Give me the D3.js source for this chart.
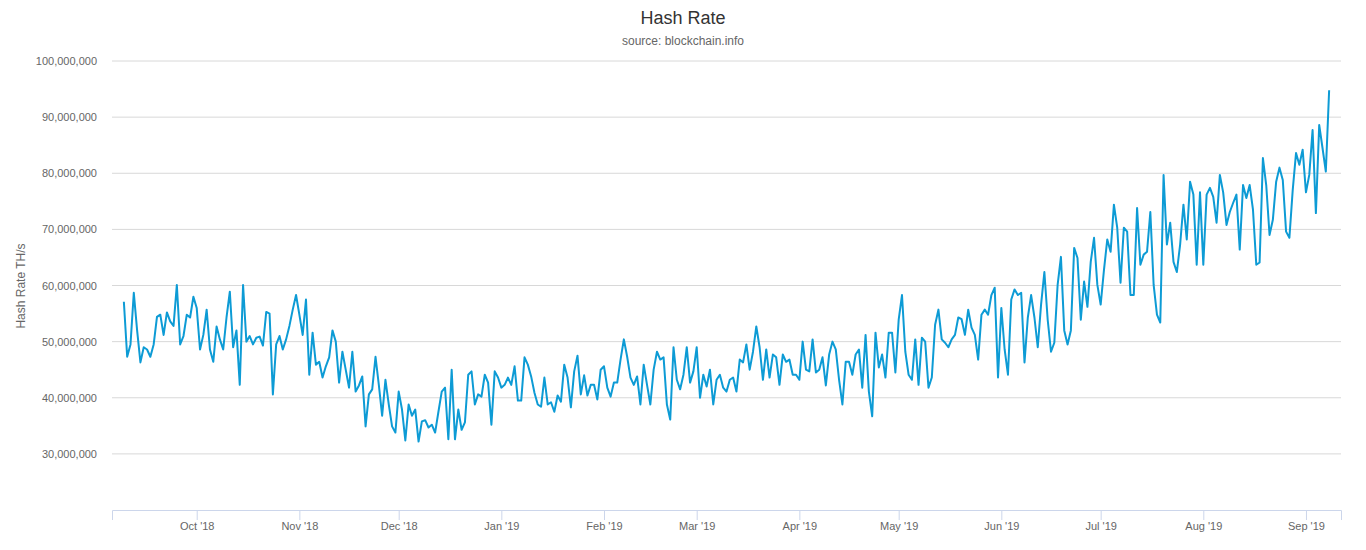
<!DOCTYPE html>
<html><head><meta charset="utf-8">
<script src="https://cdn.jsdelivr.net/npm/d3@7"></script>
<style>body{margin:0;background:#fff;font-family:"Liberation Sans",Arial,sans-serif}</style>
</head><body><svg id="c" width="1366" height="550"></svg>
<script>
const startDate = "2018-09-09";
// Hash rate in millions of TH/s, one value per day
const hashRateM = [57.1,47.3,49.5,58.7,52,46.3,49,48.6,47.3,49.5,54.4,54.8,51.2,55.2,53.6,52.8,60.1,49.5,51,54.8,54.3,58,56,48.6,51.2,55.7,48.6,46.4,52.7,50.4,48.6,54.3,58.9,49,52,42.3,60.1,50,51,49.5,50.7,50.9,49.3,55.3,55,40.6,49.5,51,48.6,50.4,52.8,55.7,58.3,54.8,51.2,57.5,44.1,51.6,45.9,46.4,43.6,45.6,47.2,52,50,42.7,48.2,45,41.8,48.2,41.1,42.2,43.8,34.9,40.6,41.5,47.3,42.3,36.8,43.2,38.8,34.9,33.8,41.1,37.9,32.4,38.8,36.8,37.9,32.2,35.8,36,34.7,35.2,33.8,37.5,41.1,41.8,32.6,45,32.6,37.9,34.3,35.6,44.1,44.7,38.8,40.6,40.2,44.1,42.7,35.2,44.7,43.6,41.8,42.3,43.6,42.3,45.6,39.5,39.5,47.2,45.9,43.8,40.9,38.8,38.4,43.6,38.8,39.2,37.5,40.4,39.3,45.9,43.6,38.3,44.7,47.5,40.6,44,40.4,42.3,42.3,39.7,45,45.6,41.8,40.2,42.7,42.7,46.8,50.4,47.3,43.6,42.3,43.8,38.8,45.9,42.3,38.8,45,48.2,46.8,47.2,38.8,36.1,49,43.2,41.5,44.1,49,42.7,44.7,49,40,44.1,42,45,38.8,43.2,44.1,41.8,41.1,43.2,43.6,41.1,46.8,46.3,49.5,45,48.2,52.7,49,43.2,48.6,43.6,47.7,47.2,42.3,47.7,46.4,46.8,44.1,44.1,43.2,50,45,44.7,50.4,44.5,45,47.2,42.2,47.7,50,48.6,43.2,38.8,46.4,46.4,44.1,47.7,48.6,41.8,51.2,41.1,36.7,51.6,45.4,47.7,43.6,51.6,51.6,44.5,53.9,58.3,48.2,44.1,43.2,50.4,42.3,50.7,50,41.8,43.6,53,55.7,50.4,49.8,49,50.4,51.2,54.3,54,51.2,55.7,52.5,51.2,46.8,54.8,55.7,54.8,58.3,59.6,43.6,56,48.6,44.1,57.5,59.3,58.3,58.7,46.3,54.3,58.3,54.3,49,56.6,62.4,53.9,48.2,49.8,60.1,65.1,52,49.5,52,66.7,64.9,53.9,60.7,56.2,64.2,68.5,60.1,56.6,62.8,68.2,66,74.4,70.3,60.5,70.3,69.6,58.3,58.3,73.8,63.7,65.5,66,73.1,60.1,54.8,53.4,79.7,67.3,71.2,64.2,62.4,67.3,74.4,68.2,78.5,76.2,63.7,76.6,63.7,76.2,77.4,75.8,71.2,79.7,76.6,70.8,73.1,74.7,76.2,66.4,77.9,75.6,77.9,73.5,63.7,64.1,82.7,77.9,69,71.7,78.5,81,78.8,69.6,68.5,77,83.6,81.5,84.2,76.6,79.7,87.7,72.9,88.6,84.5,80.3,94.8];
const yTicks = [20e6,30e6,40e6,50e6,60e6,70e6,80e6,90e6,100e6];

const parse = d3.utcParse("%Y-%m-%d");
const t0 = parse(startDate);
const data = hashRateM.map((v,i)=>({d:d3.utcDay.offset(t0,i), v:v*1e6}));

const svg = d3.select("#c");
const L=112,R=1341,T=61,B=510;
const x = d3.scaleUtc().domain([d3.utcHour.offset(data[0].d,-86), d3.utcHour.offset(data[data.length-1].d,86)]).range([L,R]);
const y = d3.scaleLinear().domain([20e6,100e6]).range([B,T]);

svg.append("text").attr("x",683).attr("y",24).attr("text-anchor","middle").attr("font-size",18).attr("fill","#333").text("Hash Rate");
svg.append("text").attr("x",683).attr("y",45).attr("text-anchor","middle").attr("font-size",12).attr("fill","#666").text("source: blockchain.info");

const g = svg.append("g");
yTicks.forEach(t=>{
  if(t>20e6) g.append("line").attr("x1",L).attr("x2",R).attr("y1",y(t)).attr("y2",y(t)).attr("stroke","#d8d8d8");
  if(t>20e6) g.append("text").attr("x",97).attr("y",y(t)+4).attr("text-anchor","end").attr("font-size",11).attr("fill","#666").text(d3.format(",")(t));
});
svg.append("text").attr("transform","translate(25,286) rotate(-90)").attr("text-anchor","middle").attr("font-size",12).attr("fill","#666").text("Hash Rate TH/s");

const xa = svg.append("g").attr("transform",`translate(0,${B})`)
  .call(d3.axisBottom(x).ticks(d3.utcMonth.every(1)).tickFormat(d3.utcFormat("%b '%y")).tickSize(10).tickPadding(2));
xa.select(".domain").attr("stroke","#ccd6eb");
xa.selectAll(".tick line").attr("stroke","#ccd6eb");
xa.selectAll("text").attr("font-size",11).attr("fill","#666").attr("font-family","Liberation Sans,Arial,sans-serif");

svg.append("path").datum(data).attr("fill","none").attr("stroke","#0d9bd5").attr("stroke-width",2).attr("stroke-linejoin","round")
  .attr("d",d3.line().x(d=>x(d.d)).y(d=>y(d.v)));
</script></body></html>
